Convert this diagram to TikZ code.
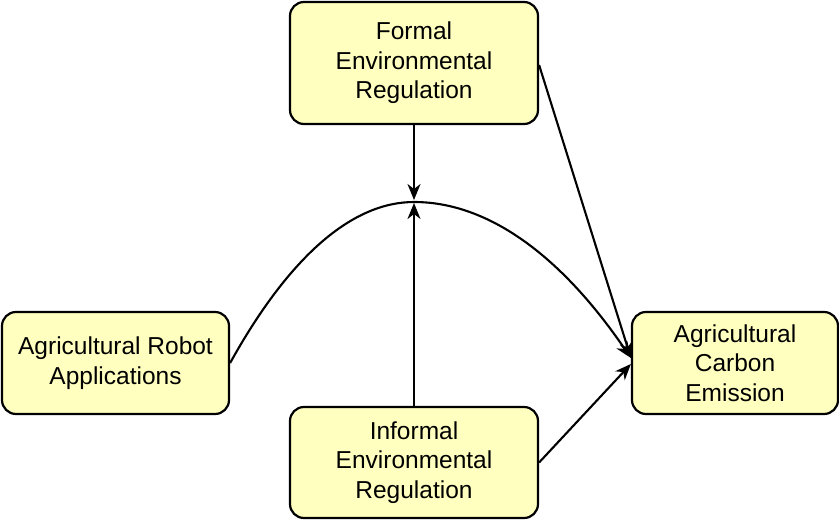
\documentclass[tikz,border=0pt]{standalone}
\usepackage{fontspec}
\setmainfont{Liberation Sans}
\usetikzlibrary{arrows.meta,positioning}

\definecolor{boxfill}{RGB}{255,255,192}

\tikzset{
    factor/.style={draw, line width=2.2pt, rounded corners=14pt, fill=boxfill,
        align=center, inner sep=0pt, font=\fontsize{24.5}{29.5}\selectfont},
    link/.style={-{Stealth[length=16pt,width=13pt,inset=5pt]}, line width=2.1pt}
}

\begin{document}
\begin{tikzpicture}[x=1pt, y=-1pt]
    \useasboundingbox (0,0) rectangle (839,520);

    % Nodes {formal, informal, robot, carbon}
    \node [factor, minimum width=248pt, minimum height=122pt]  (formal)   at (414,63)  {Formal\\Environmental\\Regulation};
    \node [factor, minimum width=248pt, minimum height=111pt]  (informal) [below of=formal, node distance=399.5pt] {Informal\\Environmental\\Regulation};
    \node [factor, minimum width=227pt, minimum height=102pt]  (robot)    at (115.5,363) {Agricultural Robot\\Applications};
    \node [factor, minimum width=206pt, minimum height=102pt]  (carbon)   [right of=robot, node distance=619.5pt] {Agricultural\\Carbon\\Emission};
    \coordinate (peak) at (414,202);

    % Paths
    \draw [link] (robot.east) .. controls (290,255) and (353,202) .. (peak)
                              .. controls (487,202) and (560,254) .. ([yshift=5pt]carbon.west);
    \draw [link] (formal)        -- ([yshift=2pt]peak);
    \draw [link] (informal)      -- ([yshift=-1pt]peak);
    \draw [link] ([yshift=-2pt]formal.east) -- ([yshift=5pt]carbon.west);
    \draw [link] (informal.east) -- ([yshift=-1pt]carbon.west);

\end{tikzpicture}
\end{document}
